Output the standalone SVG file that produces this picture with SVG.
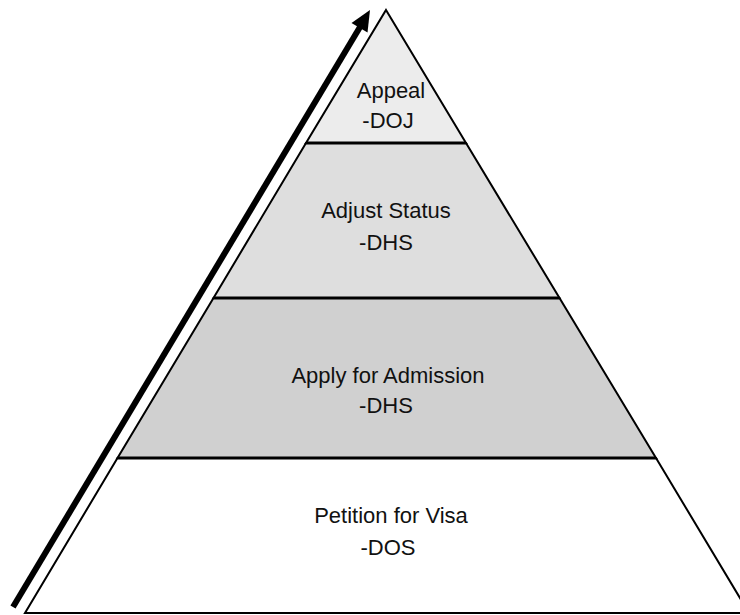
<svg xmlns="http://www.w3.org/2000/svg" width="740" height="615" viewBox="0 0 740 615">
<style>
.layer{stroke:#000;stroke-width:2;stroke-linejoin:miter}
.sep{stroke:#000;stroke-width:3}
.lbl{font-family:"Liberation Sans",Arial,sans-serif;font-size:22px;fill:#111;text-anchor:middle}
</style>
<rect width="740" height="615" fill="#fff"/>
<g id="appeal">
<polygon class="layer" points="386,10 466,143 306,143" fill="#ececec"/>
<text class="lbl" x="391" y="98">Appeal</text>
<text class="lbl" x="388" y="128">-DOJ</text>
</g>
<g id="adjust-status">
<polygon class="layer" points="306,143 466,143 559.5,298 213.5,298" fill="#dedede"/>
<text class="lbl" x="386" y="218">Adjust Status</text>
<text class="lbl" x="386" y="250">-DHS</text>
</g>
<g id="apply-admission">
<polygon class="layer" points="213.5,298 559.5,298 656,458 117.5,458" fill="#d0d0d0"/>
<text class="lbl" x="388" y="383">Apply for Admission</text>
<text class="lbl" x="386" y="413">-DHS</text>
</g>
<g id="petition-visa">
<polygon class="layer" points="117.5,458 656,458 749,613 25,613" fill="#ffffff"/>
<text class="lbl" x="391" y="523">Petition for Visa</text>
<text class="lbl" x="388" y="555">-DOS</text>
</g>
<g id="connectors">
<line class="sep" x1="306" y1="143" x2="466" y2="143"/>
<line class="sep" x1="213.5" y1="298" x2="559.5" y2="298"/>
<line class="sep" x1="117.5" y1="458" x2="656" y2="458"/>
<line x1="13" y1="607" x2="360" y2="27" stroke="#000" stroke-width="6"/>
<polygon points="370,10 367.5,32.5 351.5,22.9" fill="#000"/>
</g>
</svg>
